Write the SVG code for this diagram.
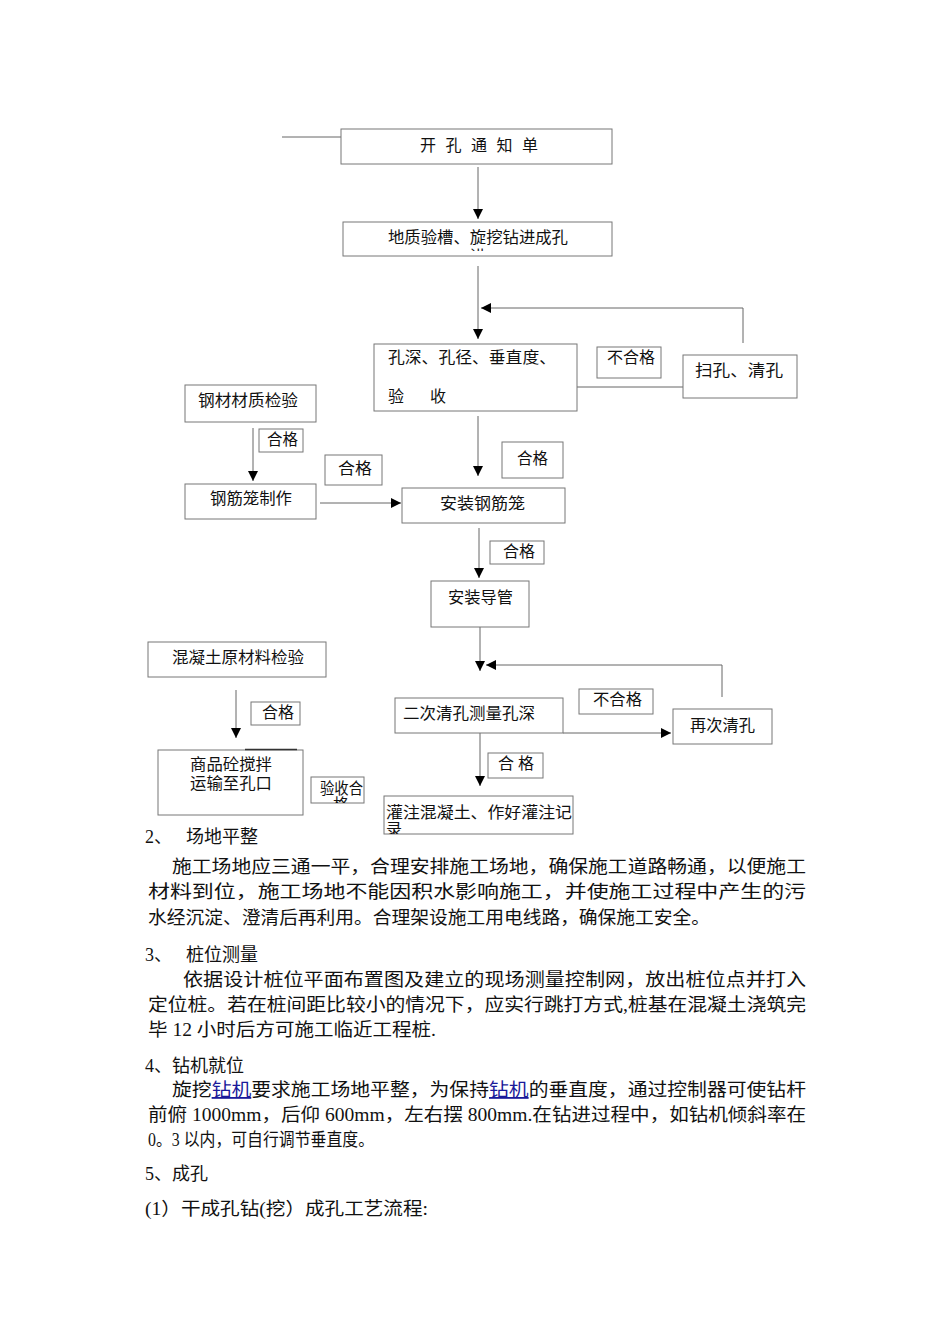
<svg xmlns="http://www.w3.org/2000/svg" width="950" height="1344" viewBox="0 0 950 1344">
<style>
.box{fill:#fff;stroke:#777;stroke-width:1}
.ln{fill:none;stroke:#666;stroke-width:1}
.t{font-family:"Liberation Serif","Noto Sans CJK SC",serif;font-size:16px;fill:#111}
.p{font-family:"Liberation Serif","Noto Sans CJK SC",serif;font-size:18px;fill:#111}
.lk{fill:#1a1a9a;text-decoration:underline}
</style>
<defs>
<marker id="ah" markerWidth="10" markerHeight="10" refX="10" refY="5" orient="auto" markerUnits="userSpaceOnUse">
<path d="M0,0 L10,5 L0,10 z" fill="#000"/>
</marker>
<clipPath id="c1"><rect x="343" y="223" width="269" height="28"/></clipPath>
<clipPath id="c2"><rect x="311" y="777" width="53" height="26"/></clipPath>
<clipPath id="c3"><rect x="384" y="796" width="189" height="38"/></clipPath>
</defs>
<rect width="950" height="1344" fill="#fff"/>

<g id="connectors">
<line class="ln" x1="282" y1="137" x2="341" y2="137"/>
<line class="ln" x1="478" y1="167" x2="478" y2="219" marker-end="url(#ah)"/>
<line class="ln" x1="478" y1="266" x2="478" y2="339" marker-end="url(#ah)"/>
<polyline class="ln" points="743,343 743,308 481,308" marker-end="url(#ah)"/>
<line class="ln" x1="577" y1="387" x2="683" y2="387"/>
<line class="ln" x1="253" y1="428" x2="253" y2="481" marker-end="url(#ah)"/>
<line class="ln" x1="320" y1="503" x2="401" y2="503" marker-end="url(#ah)"/>
<line class="ln" x1="478" y1="416" x2="478" y2="476" marker-end="url(#ah)"/>
<line class="ln" x1="479" y1="528" x2="479" y2="578" marker-end="url(#ah)"/>
<line class="ln" x1="480" y1="627" x2="480" y2="671" marker-end="url(#ah)"/>
<polyline class="ln" points="722,697 722,665 486,665" marker-end="url(#ah)"/>
<line class="ln" x1="563" y1="733" x2="671" y2="733" marker-end="url(#ah)"/>
<line class="ln" x1="480" y1="733" x2="480" y2="786" marker-end="url(#ah)"/>
<line class="ln" x1="236" y1="690" x2="236" y2="738" marker-end="url(#ah)"/>
</g>

<g id="n1"><rect class="box" x="341" y="129" width="271" height="35"/>
<text class="t" x="420 445.5 471 496.5 522" y="151">开孔通知单</text></g>

<g id="n2"><rect class="box" x="343" y="222" width="269" height="34"/>
<text class="t" x="388" y="243" textLength="180" lengthAdjust="spacingAndGlyphs">地质验槽、旋挖钻进成孔</text>
<text class="t" x="470" y="262" clip-path="url(#c1)">进</text></g>

<g id="n3"><rect class="box" x="374" y="344" width="203" height="67"/>
<text class="t" x="388" y="363" textLength="168" lengthAdjust="spacingAndGlyphs">孔深、孔径、垂直度、</text>
<text class="t" x="388" y="402">验</text><text class="t" x="430" y="402">收</text></g>

<g id="l1"><rect class="box" x="597" y="347" width="64" height="31"/>
<text class="t" x="607" y="363" textLength="48" lengthAdjust="spacingAndGlyphs">不合格</text></g>

<g id="n4"><rect class="box" x="683" y="355" width="114" height="43"/>
<text class="t" x="695" y="376" textLength="88" lengthAdjust="spacingAndGlyphs">扫孔、清孔</text></g>

<g id="n5"><rect class="box" x="185" y="385" width="131" height="37"/>
<text class="t" x="198" y="406" textLength="100" lengthAdjust="spacingAndGlyphs">钢材材质检验</text></g>

<g id="l2"><rect class="box" x="259" y="429" width="44" height="23"/>
<text class="t" x="267" y="445" textLength="31" lengthAdjust="spacingAndGlyphs">合格</text></g>

<g id="l3"><rect class="box" x="325" y="455" width="57" height="30"/>
<text class="t" x="338" y="474" textLength="34" lengthAdjust="spacingAndGlyphs">合格</text></g>

<g id="n6"><rect class="box" x="185" y="484" width="131" height="35"/>
<text class="t" x="210" y="504" textLength="82" lengthAdjust="spacingAndGlyphs">钢筋笼制作</text></g>

<g id="l4"><rect class="box" x="502" y="442" width="61" height="36"/>
<text class="t" x="517" y="464" textLength="31" lengthAdjust="spacingAndGlyphs">合格</text></g>

<g id="n7"><rect class="box" x="402" y="488" width="163" height="35"/>
<text class="t" x="440" y="509" textLength="85" lengthAdjust="spacingAndGlyphs">安装钢筋笼</text></g>

<g id="l5"><rect class="box" x="490" y="541" width="54" height="23"/>
<text class="t" x="503" y="557" textLength="32" lengthAdjust="spacingAndGlyphs">合格</text></g>

<g id="n8"><rect class="box" x="431" y="581" width="98" height="46"/>
<text class="t" x="448" y="603" textLength="65" lengthAdjust="spacingAndGlyphs">安装导管</text></g>

<g id="n9"><rect class="box" x="148" y="642" width="178" height="35"/>
<text class="t" x="172" y="663" textLength="132" lengthAdjust="spacingAndGlyphs">混凝土原材料检验</text></g>

<g id="l6"><rect class="box" x="251" y="702" width="49" height="23"/>
<text class="t" x="262" y="718" textLength="32" lengthAdjust="spacingAndGlyphs">合格</text></g>

<g id="n10"><rect class="box" x="158" y="750" width="145" height="65"/>
<line x1="245" y1="749.5" x2="297" y2="749.5" stroke="#333" stroke-width="1.5"/>
<text class="t" x="190" y="770" textLength="82" lengthAdjust="spacingAndGlyphs">商品砼搅拌</text>
<text class="t" x="190" y="789" textLength="82" lengthAdjust="spacingAndGlyphs">运输至孔口</text></g>

<g id="l7"><rect class="box" x="311" y="777" width="53" height="26"/>
<text class="t" x="320" y="794" textLength="43" lengthAdjust="spacingAndGlyphs">验收合</text>
<text class="t" x="333" y="810" clip-path="url(#c2)">格</text></g>

<g id="n11"><rect class="box" x="395" y="698" width="168" height="35"/>
<text class="t" x="403" y="719" textLength="132" lengthAdjust="spacingAndGlyphs">二次清孔测量孔深</text></g>

<g id="l8"><rect class="box" x="579" y="689" width="74" height="25"/>
<text class="t" x="593" y="705" textLength="49" lengthAdjust="spacingAndGlyphs">不合格</text></g>

<g id="n12"><rect class="box" x="673" y="709" width="99" height="35"/>
<text class="t" x="690" y="731" textLength="65" lengthAdjust="spacingAndGlyphs">再次清孔</text></g>

<g id="l9"><rect class="box" x="488" y="753" width="55" height="25"/>
<text class="t" x="498 518" y="769">合格</text></g>

<g id="n13"><rect class="box" x="384" y="796" width="189" height="38"/>
<text class="t" x="386" y="818" textLength="186" lengthAdjust="spacingAndGlyphs">灌注混凝土、作好灌注记</text>
<text class="t" x="386" y="835" clip-path="url(#c3)">录</text></g>

<g id="body">
<text class="p" x="145" y="843">2、</text><text class="p" x="186" y="843">场地平整</text>
<text class="p" x="172" y="873" textLength="634" lengthAdjust="spacingAndGlyphs">施工场地应三通一平，合理安排施工场地，确保施工道路畅通，以便施工</text>
<text class="p" x="148" y="898" textLength="658" lengthAdjust="spacingAndGlyphs">材料到位，施工场地不能因积水影响施工，并使施工过程中产生的污</text>
<text class="p" x="148" y="924" textLength="562" lengthAdjust="spacingAndGlyphs">水经沉淀、澄清后再利用。合理架设施工用电线路，确保施工安全。</text>
<text class="p" x="145" y="961">3、</text><text class="p" x="186" y="961">桩位测量</text>
<text class="p" x="183" y="986" textLength="623" lengthAdjust="spacingAndGlyphs">依据设计桩位平面布置图及建立的现场测量控制网，放出桩位点并打入</text>
<text class="p" x="148" y="1011" textLength="658" lengthAdjust="spacingAndGlyphs">定位桩。若在桩间距比较小的情况下，应实行跳打方式,桩基在混凝土浇筑完</text>
<text class="p" x="148" y="1036" textLength="288" lengthAdjust="spacingAndGlyphs">毕 12 小时后方可施工临近工程桩.</text>
<text class="p" x="145" y="1072">4、钻机就位</text>
<text class="p" x="172" y="1096" textLength="634" lengthAdjust="spacingAndGlyphs">旋挖<tspan class="lk">钻机</tspan>要求施工场地平整，为保持<tspan class="lk">钻机</tspan>的垂直度，通过控制器可使钻杆</text>
<text class="p" x="148" y="1121" textLength="658" lengthAdjust="spacingAndGlyphs">前俯 1000mm，后仰 600mm，左右摆 800mm.在钻进过程中，如钻机倾斜率在</text>
<text class="p" x="148" y="1146" textLength="226" lengthAdjust="spacingAndGlyphs">0。3 以内，可自行调节垂直度。</text>
<text class="p" x="145" y="1180">5、成孔</text>
<text class="p" x="145" y="1215" textLength="283" lengthAdjust="spacingAndGlyphs">(1）干成孔钻(挖）成孔工艺流程:</text>
</g>
</svg>
